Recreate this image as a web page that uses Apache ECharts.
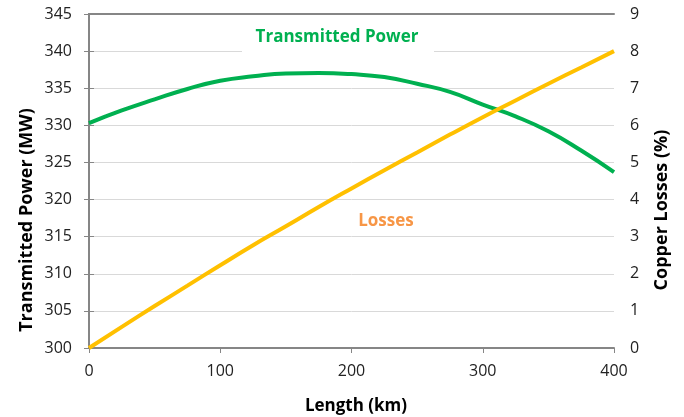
<!DOCTYPE html>
<html><head><meta charset="utf-8">
<script src="https://cdn.jsdelivr.net/npm/echarts@6/dist/echarts.min.js"></script>
<style>html,body{margin:0;padding:0;background:#fff}#c{width:684px;height:417px}</style>
</head><body><div id="c"></div>
<script>
const lengthKm = [0,25,50,75,100,125,150,175,200,225,250,275,300,325,350,375,400];
const transmittedPower = [330.3,332.0,333.5,334.9,336.0,336.6,337.0,337.05,336.9,336.5,335.6,334.5,332.8,331.2,329.2,326.6,323.7];
const copperLosses = [0,0.57,1.13,1.68,2.23,2.77,3.28,3.80,4.30,4.79,5.27,5.75,6.22,6.67,7.12,7.56,8.0];
const xTicks = [0,100,200,300,400];

const font = '"Open Sans", sans-serif';
const axisCol = '#868686';
const chart = echarts.init(document.getElementById('c'));
chart.setOption({
  animation:false,
  grid:{left:89,right:70,top:14,bottom:69},
  xAxis:[{type:'value',min:0,max:400,interval:100,
    axisLine:{show:true,lineStyle:{color:axisCol,width:2}},
    axisTick:{show:true,length:5,lineStyle:{color:axisCol,width:1}},
    axisLabel:{color:'#222',fontFamily:font,fontSize:16,margin:15,formatter:v=>xTicks.includes(v)?String(v):''},
    splitLine:{show:false}},
   {type:'value',position:'top',min:0,max:400,
    axisLine:{show:true,lineStyle:{color:axisCol,width:2}},
    axisTick:{show:false},axisLabel:{show:false},splitLine:{show:false}}],
  yAxis:[{type:'value',min:300,max:345,interval:5,position:'left',
    axisLine:{show:true,lineStyle:{color:axisCol,width:2}},
    axisTick:{show:true,length:5,lineStyle:{color:axisCol,width:1}},
    axisLabel:{color:'#222',fontFamily:font,fontSize:16,margin:17},
    splitLine:{show:true,lineStyle:{color:'#d9d9d9',width:1}}},
   {type:'value',min:0,max:9,interval:1,position:'right',
    axisLine:{show:true,lineStyle:{color:axisCol,width:2}},
    axisTick:{show:true,length:5,lineStyle:{color:axisCol,width:1}},
    axisLabel:{color:'#222',fontFamily:font,fontSize:16,margin:16},
    splitLine:{show:false}}],
  series:[
   {name:'Transmitted Power',type:'line',xAxisIndex:0,yAxisIndex:0,smooth:true,showSymbol:false,
    data:lengthKm.map((x,i)=>[x,transmittedPower[i]]),lineStyle:{color:'#00B050',width:4},itemStyle:{color:'#00B050'},z:3},
   {name:'Losses',type:'line',xAxisIndex:0,yAxisIndex:1,smooth:true,showSymbol:false,
    data:lengthKm.map((x,i)=>[x,copperLosses[i]]),lineStyle:{color:'#FFC000',width:4},itemStyle:{color:'#FFC000'},z:4}
  ],
  graphic:[
   {type:'rect',shape:{x:242,y:24,width:192,height:29},style:{fill:'#fff'},z:2},
   {type:'text',x:337,y:37,z:5,style:{text:'Transmitted Power',fill:'#00B050',font:'bold 17px '+font,textAlign:'center',textVerticalAlign:'middle'}},
   {type:'text',x:386,y:221,z:5,style:{text:'Losses',fill:'#F79646',font:'bold 17px '+font,textAlign:'center',textVerticalAlign:'middle'}},
   {type:'text',x:27,y:220,rotation:Math.PI/2,z:5,style:{text:'Transmitted Power (MW)',fill:'#000',font:'bold 18px '+font,textAlign:'center',textVerticalAlign:'middle'}},
   {type:'text',x:662,y:210,rotation:Math.PI/2,z:5,style:{text:'Copper Losses (%)',fill:'#000',font:'bold 18px '+font,textAlign:'center',textVerticalAlign:'middle'}},
   {type:'text',x:356,y:406,z:5,style:{text:'Length (km)',fill:'#000',font:'bold 17px '+font,textAlign:'center',textVerticalAlign:'middle'}}
  ]
});
</script></body></html>
